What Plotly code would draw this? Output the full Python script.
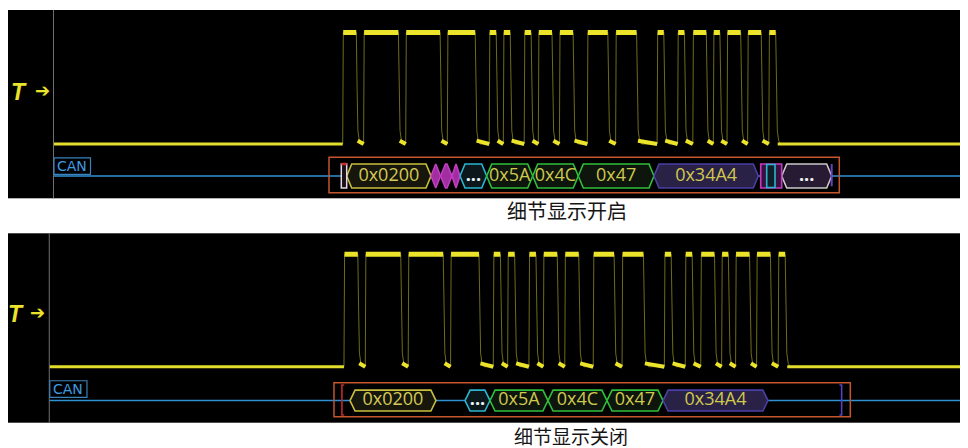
import plotly.graph_objects as go

# ---------------- data ----------------
# CAN waveform: times (sample units) of each rising / falling edge
rise_t = [342.7, 363.6, 405.7, 447.3, 489.2, 503.3, 524.2, 538.3, 559.4, 587.3,
          615.6, 657.1, 677.6, 692.8, 713.3, 727.0, 747.6, 768.8]
fall_t = [356.3, 398.4, 440.1, 475.2, 496.2, 510.2, 531.1, 552.0, 573.1, 607.8,
          636.6, 663.8, 684.4, 706.3, 719.9, 740.7, 761.2, 775.7]
logic_low, logic_high = 0.0, 1.0
trigger_level = 0.47
t_first, t_last = 53.5, 975.0

# decoded CAN frame - detail display ON
on_start = [346.7, 431.0, 440.5, 452.0, 460.0, 486.7, 532.7, 578.3, 654.0, 781.7]
on_end = [431.0, 440.5, 452.0, 460.0, 486.7, 532.7, 578.3, 654.0, 758.3, 831.7]
on_label = ["0x0200", "", "", "", "...", "0x5A", "0x4C", "0x47", "0x34A4", "..."]
on_field = ["id", "ctrl", "ctrl", "ctrl", "dlc", "data", "data", "data", "crc", "eof"]
on_sof = [341.3, 346.7]
on_ack = [760.7, 781.7]
on_ack_slot = [766.7, 775.0]
on_eof_mark = 831.7
on_frame = [329.0, 839.3]

# decoded CAN frame - detail display OFF
off_start = [348.6, 461.5, 486.0, 542.9, 600.8, 655.8]
off_end = [433.0, 486.0, 542.9, 600.8, 655.8, 758.8]
off_label = ["0x0200", "...", "0x5A", "0x4C", "0x47", "0x34A4"]
off_field = ["id", "dlc", "data", "data", "data", "crc"]
off_bracket = [340.7, 831.1]
off_frame = [332.9, 839.6]

captions = ["细节显示开启", "细节显示关闭"]
bus_name = "CAN"

# ---------------- styles ----------------
FIELD_STYLE = {
    "id": dict(line="#c9bf3e", fill="#17160c", text="#d3c954"),
    "ctrl": dict(line="#c23cc2", fill="#a02ea0", text="#ffffff"),
    "dlc": dict(line="#2bb5cf", fill="#0c171b", text="#e8f4f8"),
    "data": dict(line="#2fbf3a", fill="#0d150d", text="#cfc84e"),
    "crc": dict(line="#4a3fa6", fill="#2a2146", text="#cfc84e"),
    "eof": dict(line="#c9c9c9", fill="#261b33", text="#f2f2f2"),
}
YEL = "#ece42a"
YEL_EDGE = "rgba(200,195,55,0.55)"
BUS = "#2f90d2"
ORANGE = "#c4562c"

# the page body keeps an 8 px margin, so the figure itself is 8 px smaller
OFF = 8
W, H = 960, 440


def fx(s):
    return max(0.0, (s - OFF) / W)


def fy(s):
    return (H - (s - OFF)) / H


panels = [
    dict(n="", xrange=[8, 968], yrange=[-0.487, 1.202], xdom=[fx(8), 1],
         ydom=[fy(198.3), fy(10)], bus=-0.287, half=0.108, t_x=18.5,
         frame_y=[-0.437, -0.119], cap_xy=(fx(566.7), fy(211)), cap_size=20),
    dict(n="2", xrange=[13.0, 955.1], yrange=[-0.498, 1.187], xdom=[fx(8), 1],
         ydom=[fy(422.7), fy(233.3)], bus=-0.301, half=0.093, t_x=21.0,
         frame_y=[-0.445, -0.142], cap_xy=(fx(571), fy(435)), cap_size=19),
]

fig = go.Figure()
shapes = []
annotations = []


def hexagon(a, b, c, h, tip=5.0):
    w = min(tip, (b - a) / 2)
    return ([a, a + w, b - w, b, b - w, a + w, a],
            [c, c + h, c + h, c, c - h, c - h, c])


def add_waveform(xa, ya):
    # thin trace with edges
    xs, ys = [t_first], [logic_low]
    for r, f in zip(rise_t, fall_t):
        xs += [r, r + 0.6, f, f + 0.8, f + 1.6, f + 3.0, f + 5.0]
        ys += [logic_low, logic_high, logic_high, 0.5, 0.12, 0.03, logic_low]
    xs.append(t_last)
    ys.append(logic_low)
    fig.add_trace(go.Scatter(x=xs, y=ys, mode="lines", xaxis=xa, yaxis=ya,
                             line=dict(color=YEL_EDGE, width=1), hoverinfo="skip"))
    # thick high levels
    hx, hy = [], []
    for r, f in zip(rise_t, fall_t):
        hx += [r + 0.5, f, None]
        hy += [logic_high, logic_high, None]
    fig.add_trace(go.Scatter(x=hx, y=hy, mode="lines", xaxis=xa, yaxis=ya,
                             line=dict(color=YEL, width=5), hoverinfo="skip"))
    # thick short low levels between pulses
    lx, ly = [], []
    for f, r in zip(fall_t[:-1], rise_t[1:]):
        lx += [f + 1.4, r, None]
        ly += [0.03, logic_low, None]
    fig.add_trace(go.Scatter(x=lx, y=ly, mode="lines", xaxis=xa, yaxis=ya,
                             line=dict(color=YEL, width=4), hoverinfo="skip"))
    # idle baseline
    fig.add_trace(go.Scatter(x=[t_first, rise_t[0], None, fall_t[-1] + 2.0, t_last],
                             y=[logic_low, logic_low, None, logic_low, logic_low],
                             mode="lines", xaxis=xa, yaxis=ya,
                             line=dict(color="#e2dc2c", width=3), hoverinfo="skip"))


def add_fields(xa, ya, starts, ends, labels, fields, c, h, fsize):
    for a, b, f in zip(starts, ends, fields):
        st = FIELD_STYLE[f]
        px, py = hexagon(a, b, c, h)
        fig.add_trace(go.Scatter(x=px, y=py, mode="lines", fill="toself",
                                 fillcolor=st["fill"], xaxis=xa, yaxis=ya,
                                 line=dict(color=st["line"], width=1.6),
                                 hoverinfo="skip"))
    cx = [(a + b) / 2 for a, b in zip(starts, ends)]
    shown = ["<b>" + t + "</b>" if t == "..." else t for t in labels]
    fig.add_trace(go.Scatter(x=cx, y=[c] * len(cx), mode="text", text=shown,
                             xaxis=xa, yaxis=ya, textposition="middle center",
                             textfont=dict(family="Open Sans", size=fsize,
                                           color=[FIELD_STYLE[f]["text"] for f in fields]),
                             hoverinfo="skip"))


for i, p in enumerate(panels):
    xa, ya = "x" + p["n"], "y" + p["n"]
    c, h = p["bus"], p["half"]

    # grey separator of the label column
    shapes.append(dict(type="line", xref=xa, yref=ya + " domain", x0=t_first, x1=t_first,
                       y0=0, y1=1, line=dict(color="#707070", width=1)))
    # bus line
    fig.add_trace(go.Scatter(x=[t_first, t_last], y=[c, c], mode="lines", xaxis=xa, yaxis=ya,
                             line=dict(color=BUS, width=1.6), hoverinfo="skip"))
    add_waveform(xa, ya)

    # frame box
    frame = on_frame if i == 0 else off_frame
    shapes.append(dict(type="rect", xref=xa, yref=ya, x0=frame[0], x1=frame[1],
                       y0=p["frame_y"][0], y1=p["frame_y"][1],
                       line=dict(color=ORANGE, width=1.5)))

    if i == 0:
        # start of frame marker
        shapes.append(dict(type="rect", xref=xa, yref=ya, x0=on_sof[0], x1=on_sof[1],
                           y0=c - h, y1=c + h, fillcolor="#1a1016",
                           line=dict(color="#e8d8e8", width=1.5)))
        shapes.append(dict(type="line", xref=xa, yref=ya, x0=on_sof[0], x1=on_sof[1],
                           y0=c + h, y1=c + h, line=dict(color="#d02a2a", width=2.5)))
        add_fields(xa, ya, on_start, on_end, on_label, on_field, c, h, 18)
        # ack / delimiter block
        shapes.append(dict(type="rect", xref=xa, yref=ya, x0=on_ack[0], x1=on_ack[1],
                           y0=c - h, y1=c + h, fillcolor="#3a1040",
                           line=dict(color="#c23cc2", width=1.6)))
        shapes.append(dict(type="rect", xref=xa, yref=ya, x0=on_ack_slot[0], x1=on_ack_slot[1],
                           y0=c - h * 0.95, y1=c + h * 0.95, fillcolor="#10202a",
                           line=dict(color="#2bb5cf", width=1.6)))
        shapes.append(dict(type="line", xref=xa, yref=ya, x0=on_eof_mark, x1=on_eof_mark,
                           y0=c - h * 0.85, y1=c + h, line=dict(color="#6a40c0", width=2)))
    else:
        add_fields(xa, ya, off_start, off_end, off_label, off_field, c, h, 18)
        b0, b1 = off_bracket
        y0, y1 = c - 0.129, c + 0.138
        for bx, col, d in ((b0, "#c42828", 2.2), (b1, "#5a40c0", -2.2)):
            shapes.append(dict(type="path", xref=xa, yref=ya,
                               path=f"M {bx + d},{y1} L {bx},{y1} L {bx},{y0} L {bx + d},{y0}",
                               line=dict(color=col, width=1.6)))

    # CAN label box
    shapes.append(dict(type="rect", xref=xa, yref=ya, x0=54.0, x1=90.5,
                       y0=-0.272, y1=-0.125, line=dict(color="#3a82bb", width=1.2)))
    annotations.append(dict(x=72.2, y=-0.199, xref=xa, yref=ya, text=bus_name,
                            showarrow=False, xanchor="center", yanchor="middle",
                            font=dict(family="DejaVu Sans", size=14, color="#3d9be0")))
    # trigger marker
    annotations.append(dict(x=p["t_x"], y=trigger_level, xref=xa, yref=ya,
                            text="<b><i>T</i></b>", showarrow=False,
                            xanchor="center", yanchor="middle",
                            font=dict(family="Liberation Sans", size=23, color="#ece42a")))
    annotations.append(dict(x=42, y=trigger_level + 0.01, xref=xa, yref=ya, text="➔",
                            showarrow=False, xanchor="center", yanchor="middle",
                            font=dict(family="DejaVu Sans", size=18, color="#ece42a")))
    # caption
    annotations.append(dict(x=p["cap_xy"][0], y=p["cap_xy"][1], xref="paper", yref="paper",
                            text=captions[i], showarrow=False, borderpad=0,
                            xanchor="center", yanchor="middle",
                            font=dict(family="Noto Sans CJK SC", size=p["cap_size"],
                                      color="#151515")))

    ax = dict(range=p["xrange"], domain=p["xdom"], visible=False, showgrid=False,
              zeroline=False, fixedrange=True, anchor=ya)
    ay = dict(range=p["yrange"], domain=p["ydom"], visible=False, showgrid=False,
              zeroline=False, fixedrange=True, anchor=xa)
    fig.layout["xaxis" + p["n"]] = ax
    fig.layout["yaxis" + p["n"]] = ay

fig.update_layout(width=W, height=H, margin=dict(l=0, r=0, t=0, b=0),
                  paper_bgcolor="white", plot_bgcolor="black", showlegend=False,
                  shapes=shapes, annotations=annotations)
fig.write_html("out.html")
